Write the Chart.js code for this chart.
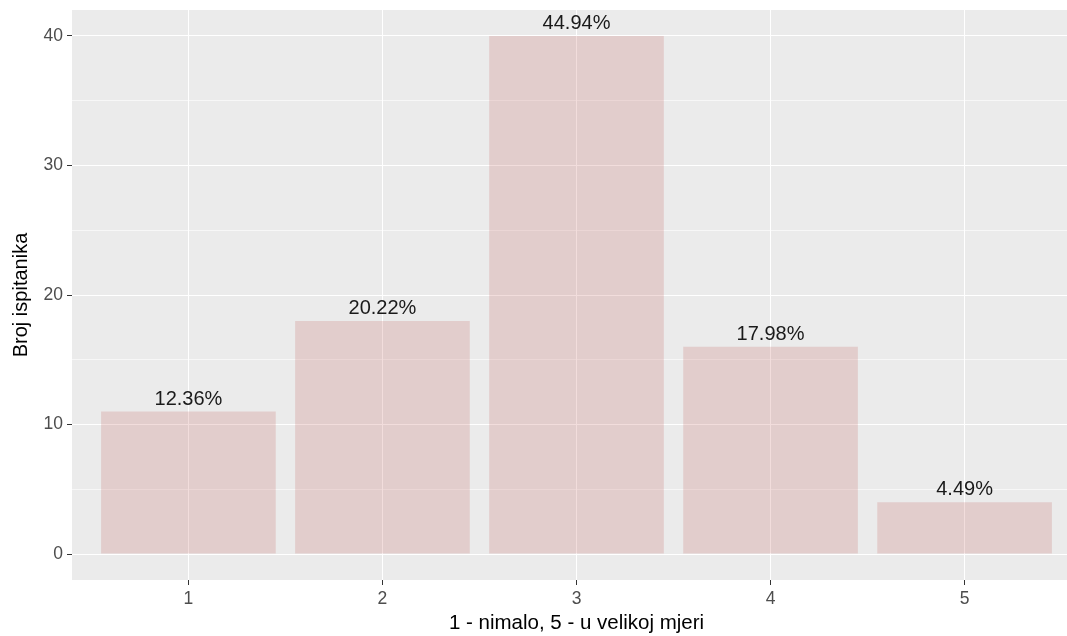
<!DOCTYPE html>
<html><head><meta charset="utf-8">
<script src="https://cdn.jsdelivr.net/npm/chart.js@4.4.1/dist/chart.umd.min.js"></script>
<style>
html,body{margin:0;padding:0;overflow:hidden;background:#fff;width:1067px;height:636px}
#wrap{position:relative;width:1100px;height:636px}
canvas{display:block}
</style></head>
<body><div id="wrap"><canvas id="c" width="1100" height="636" style="width:1100px;height:636px"></canvas></div>
<script>
const categories = ['1', '2', '3', '4', '5'];
const counts = [11, 18, 40, 16, 4];
const yMajorTicks = [0, 10, 20, 30, 40];
const yMinorTicks = [5, 15, 25, 35];
const xTitle = '1 - nimalo, 5 - u velikoj mjeri';
const yTitle = 'Broj ispitanika';

const total = counts.reduce((a, b) => a + b, 0);
const pctLabels = counts.map(v => (v / total * 100).toFixed(2) + '%');
const points = counts.map((v, i) => ({x: i + 1, y: v}));

const FONT = "'Liberation Sans', Arial, sans-serif";

const panelBg = {
  id: 'panelBg',
  beforeDraw(chart) {
    const {ctx, chartArea: a} = chart;
    ctx.save();
    ctx.fillStyle = '#EBEBEB';
    ctx.fillRect(a.left, a.top, a.right - a.left, a.bottom - a.top);
    ctx.restore();
  }
};

const barLabels = {
  id: 'barLabels',
  afterDatasetsDraw(chart) {
    const {ctx} = chart;
    const meta = chart.getDatasetMeta(0);
    ctx.save();
    ctx.fillStyle = '#1A1A1A';
    ctx.font = '20px ' + FONT;
    ctx.textAlign = 'center';
    ctx.textBaseline = 'alphabetic';
    meta.data.forEach((bar, i) => {
      ctx.fillText(pctLabels[i], bar.x, bar.y - 7);
    });
    ctx.restore();
  }
};

new Chart(document.getElementById('c'), {
  type: 'bar',
  data: {
    datasets: [{
      data: points,
      backgroundColor: 'rgba(190,85,80,0.2)',
      borderWidth: 0,
      barPercentage: 0.9,
      categoryPercentage: 1.0
    }]
  },
  options: {
    responsive: false,
    animation: false,
    layout: {padding: {top: 10, right: 19, left: 0, bottom: 0}},
    plugins: {legend: {display: false}, tooltip: {enabled: false}, title: {display: false}},
    scales: {
      x: {
        type: 'linear',
        min: 0.4,
        max: 5.6,
        offset: false,
        afterBuildTicks(scale) { scale.ticks = categories.map((c, i) => ({value: i + 1})); },
        afterFit(scale) { scale.height = 56; scale.paddingLeft = 0; scale.paddingRight = 0; },
        grid: {
          offset: false,
          color: '#FFFFFF',
          lineWidth: 1,
          drawTicks: true,
          tickLength: 5,
          tickColor: '#333333',
          tickWidth: 1
        },
        border: {display: false},
        ticks: {
          autoSkip: false,
          maxRotation: 0,
          padding: 4,
          color: '#4D4D4D',
          font: {family: FONT, size: 17.5},
          callback: (v) => categories[Math.round(v) - 1] ?? ''
        },
        title: {
          display: true,
          text: xTitle,
          color: '#000000',
          font: {family: FONT, size: 20.5},
          padding: {top: 0, bottom: 0}
        }
      },
      y: {
        type: 'linear',
        min: -2,
        max: 42,
        afterBuildTicks(scale) {
          scale.ticks = [...yMajorTicks, ...yMinorTicks].sort((a, b) => a - b).map(v => ({value: v}));
        },
        afterFit(scale) { scale.width = 72; scale.paddingTop = 0; scale.paddingBottom = 0; },
        grid: {
          color: '#FFFFFF',
          lineWidth: (ctx) => (ctx.tick && yMinorTicks.includes(ctx.tick.value)) ? 0.6 : 1,
          drawTicks: true,
          tickLength: 5,
          tickColor: (ctx) => (ctx.tick && yMinorTicks.includes(ctx.tick.value)) ? 'rgba(0,0,0,0)' : '#333333',
          tickWidth: 1
        },
        border: {display: false},
        ticks: {
          autoSkip: false,
          padding: 4,
          color: '#4D4D4D',
          font: {family: FONT, size: 17.5},
          callback: (v) => yMajorTicks.includes(v) ? String(v) : ''
        },
        title: {
          display: true,
          text: yTitle,
          color: '#000000',
          font: {family: FONT, size: 20},
          padding: {top: 9, bottom: 0}
        }
      }
    }
  },
  plugins: [panelBg, barLabels]
});
</script>
</body></html>
